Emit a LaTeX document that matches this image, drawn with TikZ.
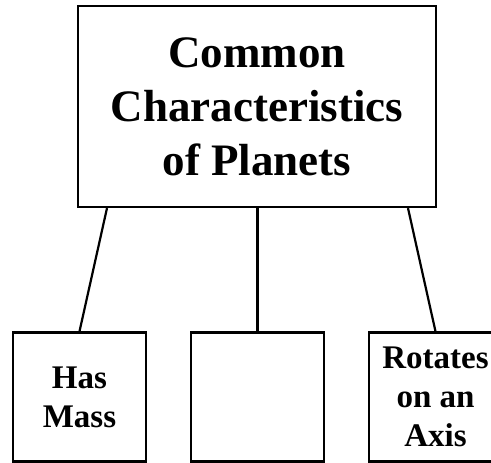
\documentclass[tikz,border=0pt]{standalone}
\usepackage{fontspec}
\setmainfont{Liberation Serif}
\usetikzlibrary{calc}

\begin{document}
\begin{tikzpicture}[x=1pt, y=1pt,
        box/.style={draw, line width=2.2pt, align=center, inner sep=2pt},
        small/.style={box, minimum width=133pt, minimum height=129pt, font=\fontsize{33}{39}\selectfont\bfseries},
        link/.style={line width=2.2pt}]

                % Fix the frame of the picture (the right box runs off the edge)
                \clip (0, 0) rectangle (491, 463);

                % Define and draw the top box
                \node[box, minimum width=358pt, minimum height=201pt, font=\fontsize{45}{54}\selectfont\bfseries] (planets) at (257, 356.5) {Common\\Characteristics\\of Planets};

                % Define and draw the three boxes below it
                \node[small] (mass) at (79.5, 66) {Has\\Mass};
                \node[small] (blank) at (257.5, 66) {};
                \node[small] (axis) at (435.5, 66) {Rotates\\on an\\Axis};

                % Points on the bottom edge of the top box
                \coordinate (pl) at ($(planets.south)+(-150, 0)$);
                \coordinate (pr) at ($(planets.south)+(151, 0)$);

                % Connect them with lines
                \draw[link] (pl) -- (mass.north);
                \draw[link] (planets.south -| blank.north) -- (blank.north);
                \draw[link] (pr) -- (axis.north);
            \end{tikzpicture}
\end{document}
